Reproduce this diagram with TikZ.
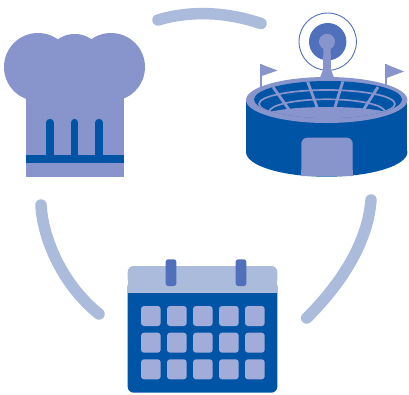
\documentclass[tikz,border=0pt]{standalone}
\definecolor{darkblue}{HTML}{0054A6}
\definecolor{hatblue}{HTML}{8795CC}
\definecolor{paleblue}{HTML}{ABBBDB}
\definecolor{cellblue}{HTML}{A1ACD9}
\definecolor{ringblue}{HTML}{5170BB}
\tikzset{
    arcline/.style={draw=paleblue, line width=11.5, line cap=round},
    cell/.style={fill=cellblue, rounded corners=3},
    ringclip/.style={fill=ringblue, rounded corners=2.5},
    seatline/.style={draw=hatblue, line width=1.7},
    spokeline/.style={draw=hatblue, line width=2.8},
    darkline/.style={draw=darkblue, line width=7.3, line cap=round}
}
\begin{document}
\begin{tikzpicture}[x=1pt, y=-1pt]
    \useasboundingbox (0,0) rectangle (409,394);

    % connecting arcs
    \coordinate (TA) at (158,20);
    \coordinate (TB) at (261,23.5);
    \coordinate (LA) at (41,205);
    \coordinate (LB) at (99,314);
    \coordinate (RA) at (371,200);
    \coordinate (RB) at (306.7,318);
    \draw[arcline] (TA) .. controls (190,10.5) and (225,11.5) .. (TB);
    \draw[arcline] (LA) .. controls (43,240) and (63,285) .. (LB);
    \draw[arcline] (RA) .. controls (368,240) and (344,281) .. (RB);

    % hat
    \fill[hatblue] (38,67) circle (34);
    \fill[hatblue] (74.7,64) circle (30);
    \fill[hatblue] (111,67) circle (34);
    \fill[hatblue] (25.7,70) rectangle (123.7,176.7);
    \draw[darkline] (50,122.5) -- (50,158);
    \draw[darkline] (74.7,122.5) -- (74.7,158);
    \draw[darkline] (99,122.5) -- (99,158);
    \fill[darkblue] (25.7,155.3) rectangle (123.7,162.7);

    % antenna
    \draw[ringblue, line width=0.9] (327.7,41.7) circle (28.7);
    \fill[ringblue] (327.7,41.7) circle (18.7);
    \fill[hatblue] (327,41.7) circle (8);
    \fill[hatblue] (323.5,42) -- (330.5,42) -- (331,70) -- (335,80) -- (319,80) -- (323,70) -- cycle;

    % flags
    \draw[hatblue, line width=1.6] (261,64) -- (261,88);
    \fill[hatblue] (260.3,64) -- (277.5,70.5) -- (260.3,76.5) -- cycle;
    \draw[hatblue, line width=1.6] (386,64) -- (386,86);
    \fill[hatblue] (385.3,64) -- (404,71.5) -- (385.3,78.5) -- cycle;

    % stadium
    \fill[darkblue] (326.7,152) ellipse [x radius=80.7, y radius=24.7];
    \fill[darkblue] (246,100) rectangle (407.4,152);
    \fill[hatblue] (326.7,100) ellipse [x radius=80.7, y radius=23];
    \begin{scope}
        \clip (328,99.5) ellipse [x radius=74, y radius=18.5];
        \fill[darkblue] (246,75) rectangle (408,125);
        \draw[seatline] (327,104) ellipse [x radius=68, y radius=14];
        \draw[seatline] (327,112) ellipse [x radius=58, y radius=12.7];
        \draw[spokeline] (273,87) -- (290,111);
        \draw[spokeline] (307,80) -- (317,107);
        \draw[spokeline] (343,81) -- (335,107);
        \draw[spokeline] (378,87) -- (362,112);
        \fill[hatblue] (328,116) ellipse [x radius=65, y radius=9];
    \end{scope}
    \fill[hatblue, rounded corners=6] (301.3,176) -- (301.3,137.7) -- (352.7,137.7) -- (352.7,176);
    \fill[hatblue] (301.3,170) rectangle (352.7,175.5);

    % calendar
    \fill[darkblue, rounded corners=6] (127.7,280) rectangle (277.3,392.7);
    \fill[paleblue, rounded corners=6] (127.7,266) rectangle (277.3,285);
    \fill[paleblue] (127.7,274) rectangle (277.3,292.7);
    \fill[ringclip] (165.7,259.3) rectangle (176.3,286);
    \fill[ringclip] (235.7,259.3) rectangle (246.3,286);

    \fill[cell] (141,306) rectangle ++(19.7,20);
    \fill[cell] (167,306) rectangle ++(19.7,20);
    \fill[cell] (193,306) rectangle ++(19.7,20);
    \fill[cell] (219,306) rectangle ++(19.7,20);
    \fill[cell] (245,306) rectangle ++(19.7,20);

    \fill[cell] (141,332.7) rectangle ++(19.7,20);
    \fill[cell] (167,332.7) rectangle ++(19.7,20);
    \fill[cell] (193,332.7) rectangle ++(19.7,20);
    \fill[cell] (219,332.7) rectangle ++(19.7,20);
    \fill[cell] (245,332.7) rectangle ++(19.7,20);

    \fill[cell] (141,359.3) rectangle ++(19.7,20);
    \fill[cell] (167,359.3) rectangle ++(19.7,20);
    \fill[cell] (193,359.3) rectangle ++(19.7,20);
    \fill[cell] (219,359.3) rectangle ++(19.7,20);
    \fill[cell] (245,359.3) rectangle ++(19.7,20);
\end{tikzpicture}
\end{document}
